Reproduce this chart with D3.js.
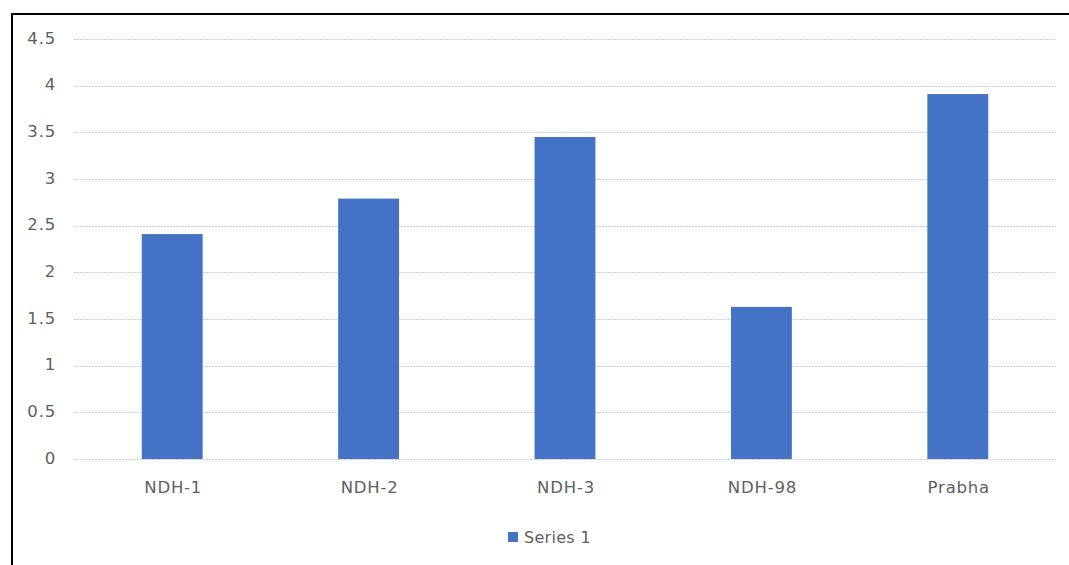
<!DOCTYPE html>
<html>
<head>
<meta charset="utf-8">
<script src="https://cdn.jsdelivr.net/npm/d3@7/dist/d3.min.js"></script>
<style>
  html, body { margin: 0; padding: 0; background: #fff; }
  svg { display: block; }
  text { font-family: "DejaVu Sans", sans-serif; fill: #606060; letter-spacing: 0.8px; }
</style>
</head>
<body>
<svg id="chart" width="1069" height="565"></svg>
<script>
const categories = ["NDH-1", "NDH-2", "NDH-3", "NDH-98", "Prabha"];
const values = [2.41, 2.79, 3.45, 1.63, 3.91];
const yTicks = [0, 0.5, 1, 1.5, 2, 2.5, 3, 3.5, 4, 4.5];
const seriesName = "Series 1";

const svg = d3.select("#chart");
const W = 1069, H = 565;
const plot = { left: 74, right: 1056, top: 39, bottom: 459 };
const fontSize = 16.5;

// chart frame
svg.append("rect")
  .attr("x", 12).attr("y", 14)
  .attr("width", W + 10).attr("height", H + 10)
  .attr("fill", "none").attr("stroke", "#000").attr("stroke-width", 2);

const x = d3.scaleBand()
  .domain(categories)
  .range([plot.left, plot.right])
  .paddingInner(0.69).paddingOuter(0.345);

const y = d3.scaleLinear().domain([0, 4.5]).range([plot.bottom, plot.top]);

// horizontal gridlines
svg.append("g")
  .selectAll("line")
  .data(yTicks)
  .join("line")
  .attr("x1", plot.left).attr("x2", plot.right)
  .attr("y1", d => Math.round(y(d)) + 0.5).attr("y2", d => Math.round(y(d)) + 0.5)
  .attr("stroke", "#cfcfcf").attr("stroke-width", 1)
  .attr("stroke-dasharray", "2,1");

// y axis labels
const yAxis = d3.axisLeft(y).tickValues(yTicks).tickSize(0).tickPadding(0)
  .tickFormat(d => String(d));
svg.append("g")
  .attr("transform", `translate(${plot.left - 18},-1)`)
  .call(yAxis)
  .call(g => g.select(".domain").remove())
  .call(g => g.selectAll("text")
    .attr("font-size", fontSize)
    .attr("font-family", "'DejaVu Sans', sans-serif")
    .attr("fill", "#606060"));

// bars
svg.append("g")
  .selectAll("rect")
  .data(values)
  .join("rect")
  .attr("x", (d, i) => x(categories[i]))
  .attr("y", d => y(d))
  .attr("width", x.bandwidth())
  .attr("height", d => y(0) - y(d))
  .attr("fill", "#4472c4");

// x axis labels
const xAxis = d3.axisBottom(x).tickSize(0).tickPadding(0);
svg.append("g")
  .attr("transform", `translate(1,${plot.bottom + 22})`)
  .call(xAxis)
  .call(g => g.select(".domain").remove())
  .call(g => g.selectAll("text")
    .attr("font-size", fontSize)
    .attr("font-family", "'DejaVu Sans', sans-serif")
    .attr("fill", "#606060"));

// legend
const legend = svg.append("g").attr("transform", "translate(508,532)");
legend.append("rect").attr("width", 10).attr("height", 10).attr("fill", "#4472c4");
legend.append("text")
  .attr("x", 16).attr("y", 5).attr("dy", "0.35em")
  .attr("font-size", 16)
  .style("letter-spacing", "0.3px")
  .text(seriesName);
</script>
</body>
</html>
